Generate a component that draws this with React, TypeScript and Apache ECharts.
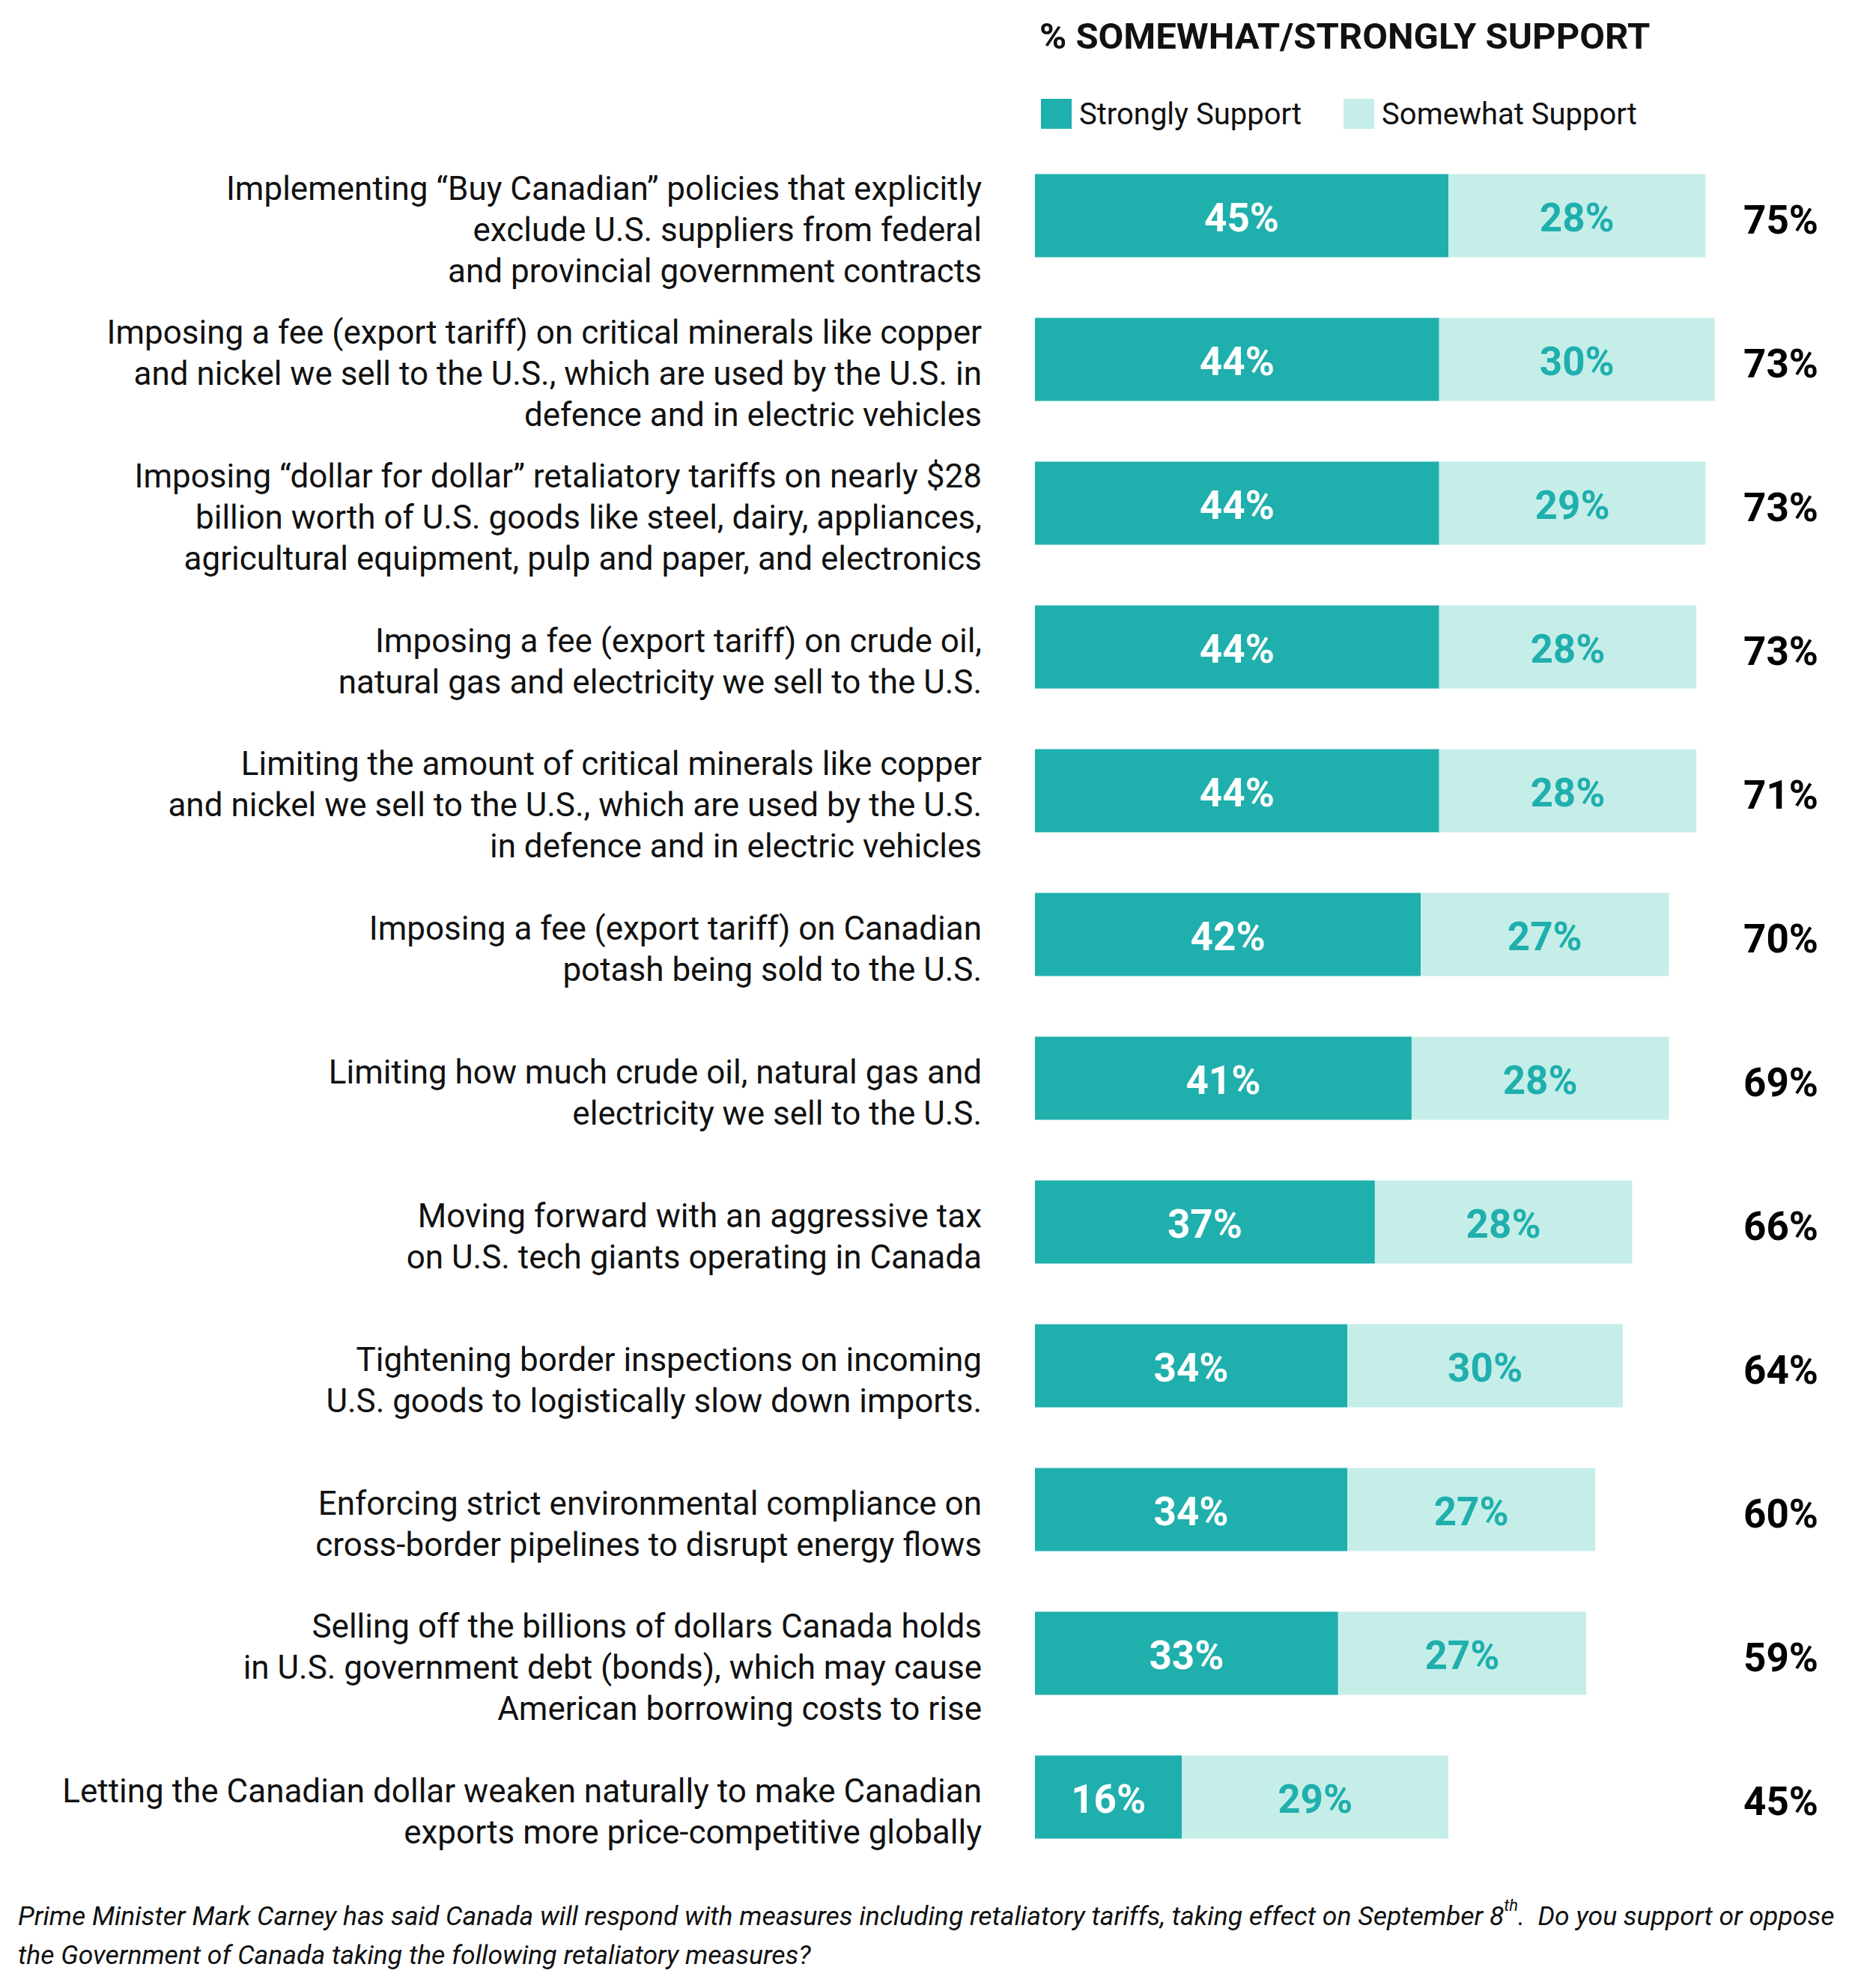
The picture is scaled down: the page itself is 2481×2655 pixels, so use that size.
import * as echarts from "echarts"
import { useEffect, useRef } from "react"

const FONT = "Roboto, 'Noto Sans', sans-serif"

const categories = [
  "Implementing “Buy Canadian” policies that explicitly\nexclude U.S. suppliers from federal\nand provincial government contracts",
  "Imposing a fee (export tariff) on critical minerals like copper\nand nickel we sell to the U.S., which are used by the U.S. in\ndefence and in electric vehicles",
  "Imposing “dollar for dollar” retaliatory tariffs on nearly $28\nbillion worth of U.S. goods like steel, dairy, appliances,\nagricultural equipment, pulp and paper, and electronics",
  "Imposing a fee (export tariff) on crude oil,\nnatural gas and electricity we sell to the U.S.",
  "Limiting the amount of critical minerals like copper\nand nickel we sell to the U.S., which are used by the U.S.\nin defence and in electric vehicles",
  "Imposing a fee (export tariff) on Canadian\npotash being sold to the U.S.",
  "Limiting how much crude oil, natural gas and\nelectricity we sell to the U.S.",
  "Moving forward with an aggressive tax\non U.S. tech giants operating in Canada",
  "Tightening border inspections on incoming\nU.S. goods to logistically slow down imports.",
  "Enforcing strict environmental compliance on\ncross-border pipelines to disrupt energy flows",
  "Selling off the billions of dollars Canada holds\nin U.S. government debt (bonds), which may cause\nAmerican borrowing costs to rise",
  "Letting the Canadian dollar weaken naturally to make Canadian\nexports more price-competitive globally",
]
const strongly = [45, 44, 44, 44, 44, 42, 41, 37, 34, 34, 33, 16]
const somewhat = [28, 30, 29, 28, 28, 27, 28, 28, 30, 27, 27, 29]
const totals = [75, 73, 73, 73, 71, 70, 69, 66, 64, 60, 59, 45]
const seriesNames = ["Strongly Support", "Somewhat Support"]

const title = "% SOMEWHAT/STRONGLY SUPPORT"
const footnote =
  "Prime Minister Mark Carney has said Canada will respond with measures including retaliatory tariffs, taking effect on September 8{sup|th}.  Do you support or oppose\nthe Government of Canada taking the following retaliatory measures?"

const TEAL = "#1FAFAD"
const LIGHT = "#C6EEE9"

export default function App() {
  const ref = useRef<HTMLDivElement>(null)

  useEffect(() => {
    if (!ref.current) return
    const chart = echarts.init(ref.current, undefined, { renderer: "svg" })
    // an empty rich map puts labels on the rich-text path, where top padding
    // nudges a middle-aligned block downwards
    const nudge = { rich: { n: {} } }
    chart.setOption({
      animation: false,
      backgroundColor: "#ffffff",
      textStyle: { fontFamily: FONT },
      legend: {
        data: seriesNames,
        left: 1385,
        top: 127,
        icon: "rect",
        itemWidth: 41,
        itemHeight: 40,
        itemGap: 56,
        selectedMode: false,
        textStyle: {
          fontFamily: FONT,
          fontSize: 40,
          color: "#111",
          padding: [0, 0, 0, 5],
        },
      },
      grid: { left: 1382, right: 179, top: 192, bottom: 159 },
      xAxis: { type: "value", min: 0, max: 75, show: false },
      yAxis: [
        {
          type: "category",
          inverse: true,
          data: categories,
          axisLine: { show: false },
          axisTick: { show: false },
          splitLine: { show: false },
          axisLabel: {
            interval: 0,
            margin: 71,
            align: "right",
            fontFamily: FONT,
            fontSize: 44,
            lineHeight: 55,
            color: "#111",
            padding: [38, 0, 0, 0],
            ...nudge,
          },
        },
        {
          type: "category",
          inverse: true,
          position: "right",
          data: categories,
          axisLine: { show: false },
          axisTick: { show: false },
          splitLine: { show: false },
          axisLabel: {
            interval: 0,
            margin: 26,
            align: "left",
            fontFamily: FONT,
            fontSize: 53,
            fontWeight: "bold",
            color: "#000",
            padding: [12, 0, 0, 0],
            formatter: (_v: string, i: number) => `${totals[i]}%`,
            ...nudge,
          },
        },
      ],
      series: [
        {
          name: seriesNames[0],
          type: "bar",
          stack: "support",
          yAxisIndex: 0,
          barWidth: 111,
          data: strongly,
          itemStyle: { color: TEAL },
          label: {
            show: true,
            position: "inside",
            formatter: "{c}%",
            color: "#fff",
            fontFamily: FONT,
            fontSize: 53,
            fontWeight: "bold",
            padding: [5, 0, 0, 0],
            ...nudge,
          },
        },
        {
          name: seriesNames[1],
          type: "bar",
          stack: "support",
          yAxisIndex: 0,
          barWidth: 111,
          data: somewhat,
          itemStyle: { color: LIGHT },
          label: {
            show: true,
            position: "inside",
            formatter: "{c}%",
            color: TEAL,
            fontFamily: FONT,
            fontSize: 53,
            fontWeight: "bold",
            padding: [5, 0, 0, 0],
            ...nudge,
          },
        },
      ],
      graphic: [
        {
          type: "text",
          x: 1388,
          y: 48,
          style: {
            text: title,
            fill: "#111",
            fontFamily: FONT,
            fontSize: 49,
            fontWeight: "bold",
            verticalAlign: "middle",
          },
        },
        {
          type: "text",
          x: 24,
          y: 2585,
          style: {
            text: footnote,
            fill: "#111",
            fontFamily: FONT,
            fontSize: 35.5,
            fontStyle: "italic",
            lineHeight: 52,
            verticalAlign: "middle",
            rich: {
              sup: {
                fontFamily: FONT,
                fontSize: 22,
                fontStyle: "italic",
                lineHeight: 22,
                verticalAlign: "top",
                fill: "#111",
              },
            },
          },
        },
      ],
    })
    return () => chart.dispose()
  }, [])

  return (
    <div
      ref={ref}
      style={{ position: "absolute", left: 0, top: 0, width: 2481, height: 2655 }}
    />
  )
}
